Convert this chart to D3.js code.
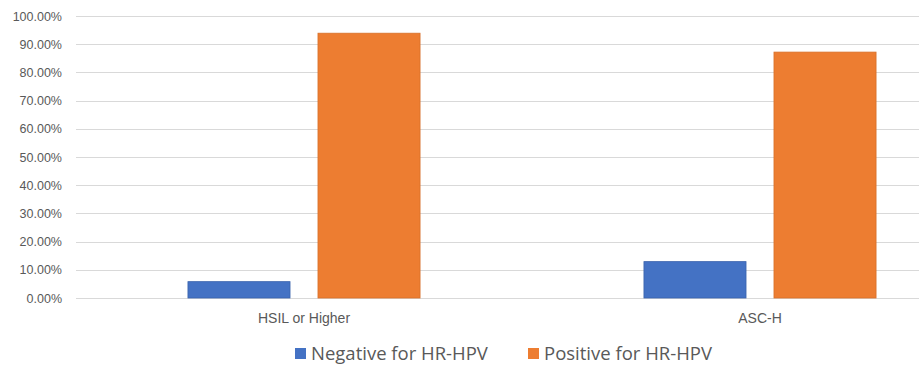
<!DOCTYPE html>
<html>
<head>
<meta charset="utf-8">
<script src="https://cdn.jsdelivr.net/npm/d3@7"></script>
<style>
  body { margin: 0; background: #fff; }
  svg { display: block; font-family: "Open Sans", "Noto Sans", sans-serif; }
  .grid line { stroke: #d9d9d9; stroke-width: 1; }
  .grid .domain { display: none; }
  .ylab text { fill: #595959; font-size: 12.5px; }
  .xlab text { fill: #595959; font-size: 14px; }
</style>
</head>
<body>
<svg id="chart"></svg>
<script>
// chart data
let categories = ['HSIL or Higher', 'ASC-H'];
let seriesNames = ['Negative for HR-HPV', 'Positive for HR-HPV'];
let negative = [0.058, 0.129];
let positive = [0.939, 0.872];
let yTicks = [0, 0.1, 0.2, 0.3, 0.4, 0.5, 0.6, 0.7, 0.8, 0.9, 1.0];
let colors = ['#4472c4', '#ed7d31'];
let borders = ['#3a63ad', '#d86f2a'];

function makeChart() {
    let w = 919;
    let h = 365;

    let svg = d3.select('#chart')
        .attr('width', w)
        .attr('height', h);

    // plot area runs past the right edge (the source image is cropped)
    let xScale = d3.scaleBand()
        .domain(categories)
        .range([76, 988])
        .paddingInner(0.491)
        .paddingOuter(0.2455);

    let sScale = d3.scaleBand()
        .domain(seriesNames)
        .range([0, xScale.bandwidth()])
        .paddingInner(0.215);

    let yScale = d3.scaleLinear()
        .domain([0, 1])
        .range([298, 16]);

    // gridlines
    svg.append('g')
        .attr('class', 'grid')
        .attr('transform', 'translate(76,0)')
        .call(d3.axisLeft(yScale).tickValues(yTicks).tickSize(-912).tickFormat(''))
        .selectAll('line')
        .attr('shape-rendering', 'crispEdges');

    // y labels
    svg.append('g')
        .attr('class', 'ylab')
        .attr('transform', 'translate(62,0)')
        .call(d3.axisLeft(yScale).tickValues(yTicks).tickSize(0).tickPadding(0)
            .tickFormat(d => (d * 100).toFixed(2) + '%'))
        .call(g => g.select('.domain').remove());

    let rows = categories.map((c, i) => ({ cat: c, vals: [negative[i], positive[i]] }));

    let groups = svg.selectAll('g.bars')
        .data(rows)
        .enter()
        .append('g')
        .attr('class', 'bars')
        .attr('transform', d => `translate(${xScale(d.cat)},0)`);

    groups.selectAll('rect')
        .data(d => d.vals.map((v, j) => ({ s: seriesNames[j], v: v, j: j })))
        .enter()
        .append('rect')
        .attr('x', d => sScale(d.s))
        .attr('y', d => yScale(d.v))
        .attr('width', sScale.bandwidth())
        .attr('height', d => yScale(0) - yScale(d.v))
        .attr('fill', d => colors[d.j])
        .attr('stroke', d => borders[d.j])
        .attr('stroke-width', 0.8);

    // category labels
    svg.append('g')
        .attr('class', 'xlab')
        .attr('transform', 'translate(0,298)')
        .call(d3.axisBottom(xScale).tickSize(0).tickPadding(15))
        .call(g => g.select('.domain').remove());

    // legend
    let legendX = [295, 528];
    let legend = svg.selectAll('g.legend')
        .data(seriesNames)
        .enter()
        .append('g')
        .attr('class', 'legend')
        .attr('transform', (d, i) => `translate(${legendX[i]},348)`);

    legend.append('rect')
        .attr('width', 11)
        .attr('height', 11)
        .attr('fill', (d, i) => colors[i]);

    legend.append('text')
        .attr('x', 16)
        .attr('y', 12)
        .attr('font-size', '18.5px')
        .attr('fill', '#595959')
        .text(d => d);
}

makeChart();
</script>
</body>
</html>
